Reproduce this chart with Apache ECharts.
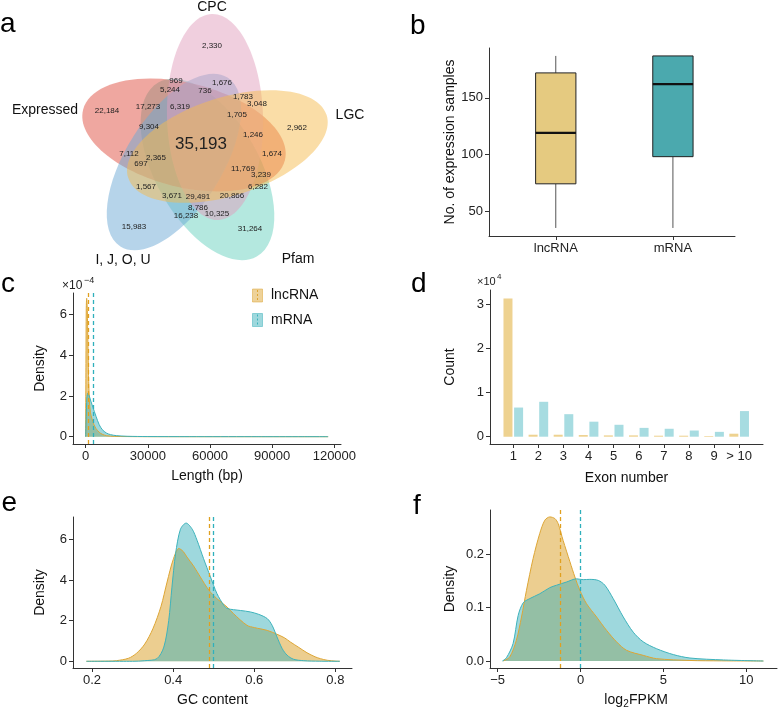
<!DOCTYPE html>
<html>
<head>
<meta charset="utf-8">
<script src="https://cdn.jsdelivr.net/npm/echarts@6/dist/echarts.min.js"></script>
<style>
html,body{margin:0;padding:0;background:#fff;}
#main{width:780px;height:708px;}
</style>
</head>
<body>
<div id="main"></div>
<script>
// ---- data ----
// a: venn
var vennSets = ['CPC', 'LGC', 'Pfam', 'I, J, O, U', 'Expressed'];
var vennCounts = [2330, 969, 1676, 5244, 736, 1783, 3048, 22184, 17273, 6319, 1705, 2962, 9304, 1246, 35193,
    7112, 2365, 697, 1674, 11769, 3239, 1567, 6282, 3671, 29491, 20866, 8786, 16238, 10325, 15983, 31264];

// b: boxplot  [min, Q1, median, Q3, max]
var boxCats = ['lncRNA', 'mRNA'];
var boxStats = [[35, 74, 119, 172, 187], [35, 98, 162, 187, 187]];

// c: length density (x10^-4)
var lenLncX = [0, 150, 300, 500, 800, 1100, 1400, 1800, 2300, 3000, 4000, 5000, 6500, 8000, 10000, 14000, 20000, 30000, 117000];
var lenLncY = [0, 3.6, 6.3, 6.8, 6.2, 4.6, 3.0, 1.8, 1.2, 0.9, 0.6, 0.4, 0.22, 0.12, 0.05, 0.015, 0.005, 0, 0];
var lenMrnaX = [0, 300, 600, 1100, 1600, 2500, 3500, 5000, 6500, 8000, 10000, 12000, 15000, 20000, 30000, 50000, 80000, 117000];
var lenMrnaY = [0, 1.0, 1.9, 2.15, 2.05, 1.75, 1.45, 1.0, 0.6, 0.35, 0.18, 0.1, 0.05, 0.02, 0.006, 0.002, 0.001, 0];
var lenMean = [1100, 3600];

// d: exon number (x10^4)
var exonCats = ['1', '2', '3', '4', '5', '6', '7', '8', '9', '> 10'];
var exonLnc = [3.13, 0.045, 0.045, 0.038, 0.03, 0.03, 0.023, 0.023, 0.015, 0.068];
var exonMrna = [0.66, 0.79, 0.51, 0.34, 0.27, 0.20, 0.18, 0.14, 0.11, 0.58];

// e: GC content density
var gcLncX = [0.186, 0.24, 0.26, 0.29, 0.31, 0.33, 0.35, 0.37, 0.385, 0.40, 0.414, 0.425, 0.434, 0.45, 0.467, 0.488, 0.508, 0.533, 0.549, 0.582, 0.60, 0.632, 0.656, 0.675, 0.689, 0.71, 0.73, 0.75, 0.763, 0.78, 0.80, 0.811];
var gcLncY = [0, 0.01, 0.03, 0.15, 0.4, 0.85, 1.6, 2.7, 3.9, 5.0, 5.55, 5.4, 5.13, 4.7, 4.15, 3.5, 3.08, 2.67, 2.34, 1.77, 1.66, 1.52, 1.33, 1.15, 0.95, 0.68, 0.42, 0.22, 0.13, 0.05, 0.01, 0];
var gcMrnaX = [0.186, 0.30, 0.33, 0.36, 0.377, 0.389, 0.397, 0.406, 0.418, 0.432, 0.447, 0.459, 0.475, 0.492, 0.508, 0.525, 0.533, 0.549, 0.566, 0.59, 0.611, 0.632, 0.644, 0.656, 0.669, 0.681, 0.697, 0.722, 0.76, 0.811];
var gcMrnaY = [0, 0, 0.03, 0.13, 0.7, 2.0, 3.65, 5.3, 6.5, 6.8, 6.5, 5.95, 5.05, 4.15, 3.33, 2.75, 2.6, 2.54, 2.5, 2.43, 2.31, 2.1, 1.77, 1.2, 0.62, 0.3, 0.1, 0.03, 0.005, 0];
var gcMean = [0.489, 0.498];

// f: log2FPKM density
var fpkmLncX = [-4.67, -4.27, -3.87, -3.56, -3.26, -2.86, -2.46, -2.15, -1.85, -1.55, -1.35, -1.05, -0.64, -0.34, -0.04, 0.36, 0.97, 1.57, 2.17, 2.78, 3.78, 4.59, 6.6, 8.5, 11.03];
var fpkmLncY = [0, 0.0075, 0.039, 0.0825, 0.1325, 0.192, 0.239, 0.264, 0.27, 0.267, 0.2575, 0.226, 0.186, 0.1575, 0.1325, 0.1075, 0.0825, 0.0575, 0.036, 0.02, 0.0106, 0.0044, 0.001, 0.0003, 0];
var fpkmMrnaX = [-4.71, -4.47, -4.07, -3.76, -3.46, -3.06, -2.46, -1.85, -1.45, -0.85, -0.24, 0.16, 0.56, 1.07, 1.47, 1.97, 2.58, 3.18, 3.78, 4.59, 5.6, 6.6, 8.62, 11.03];
var fpkmMrnaY = [0, 0.006, 0.0325, 0.0856, 0.109, 0.117, 0.126, 0.1375, 0.142, 0.148, 0.154, 0.1525, 0.153, 0.151, 0.142, 0.117, 0.0825, 0.054, 0.036, 0.023, 0.012, 0.0056, 0.002, 0];
var fpkmMean = [-1.21, 0];

// ---- layout / style ----
var FONT = '"Liberation Sans", Arial, sans-serif';
var YEL = '#DDA534', BLU = '#3DB2BB';
// venn ellipse shapes, same order as vennSets: [cx, cy, rx, ry, angle(deg, clockwise)]
var vennShapes = [
    [215, 117, 103, 48, -91.7],
    [227.5, 146.5, 104, 49, -17.6],
    [207.5, 169.5, 100, 52, 60.5],
    [174, 162, 100, 48, 122.4],
    [184, 135, 104, 52, 194]
];
var vennColors = ['rgba(225,160,190,0.5)', 'rgba(245,187,79,0.5)', 'rgba(105,209,191,0.5)', 'rgba(109,169,213,0.5)', 'rgba(223,80,66,0.5)'];
var vennLabelPos = [[212, 7], [350, 115], [298, 259], [123, 260], [45, 110]];
var vennCountPos = [[212,46],[176,81],[222,83],[170,90],[205,91],[243,97],[257,104],[107,111],[148,107],[180,107],[237,115],[297,128],[149,127],[253,135],[201,144],
    [129,154],[156,158],[141,164],[272,154],[243,169],[261,175],[146,187],[258,187],[172,196],[198,197],[232,196],[198,208],[186,216],[217,214],[134,227],[250,229]];

var myChart = echarts.init(document.getElementById('main'));

var graphics = [];
// venn ellipses: Pfam, Expressed, IJOU, CPC, LGC
[2, 4, 3, 0, 1].forEach(function (k) {
    var s = vennShapes[k];
    graphics.push({
        type: 'ellipse', x: s[0], y: s[1], rotation: -s[4] * Math.PI / 180,
        shape: {cx: 0, cy: 0, rx: s[2], ry: s[3]},
        style: {fill: vennColors[k]}
    });
});
vennCounts.forEach(function (n, i) {
    var big = n === 35193;
    graphics.push({
        type: 'text', x: vennCountPos[i][0], y: vennCountPos[i][1],
        style: {text: n.toLocaleString('en-US'), fill: '#222', fontSize: big ? 17 : 8, fontFamily: FONT, align: 'center', verticalAlign: 'middle'}
    });
});
vennSets.forEach(function (s, i) {
    graphics.push({
        type: 'text', x: vennLabelPos[i][0], y: vennLabelPos[i][1],
        style: {text: s, fill: '#111', fontSize: 14, fontFamily: FONT, align: 'center', verticalAlign: 'middle'}
    });
});
// panel letters
[['a', 0, 24], ['b', 410, 26], ['c', 1, 284], ['d', 411, 284], ['e', 1.5, 503], ['f', 413, 506]].forEach(function (p) {
    graphics.push({type: 'text', x: p[1], y: p[2],
        style: {text: p[0], fill: '#000', fontSize: 28, fontFamily: FONT, align: 'left', verticalAlign: 'middle'}});
});
// axis multipliers
graphics.push({type: 'text', x: 62, y: 286, style: {text: '\u00d710', fill: '#222', fontSize: 12, fontFamily: FONT, verticalAlign: 'middle'}});
graphics.push({type: 'text', x: 84, y: 281, style: {text: '\u22124', fill: '#222', fontSize: 9, fontFamily: FONT, verticalAlign: 'middle'}});
graphics.push({type: 'text', x: 477, y: 282, style: {text: '\u00d710', fill: '#222', fontSize: 11, fontFamily: FONT, verticalAlign: 'middle'}});
graphics.push({type: 'text', x: 497, y: 277, style: {text: '4', fill: '#222', fontSize: 8, fontFamily: FONT, verticalAlign: 'middle'}});
// legend for c
[['lncRNA', YEL, 289], ['mRNA', BLU, 313.5]].forEach(function (l) {
    graphics.push({type: 'rect', shape: {x: 252.5, y: l[2], width: 10, height: 13},
        style: {fill: l[1], opacity: 0.5, stroke: l[1], lineWidth: 1}});
    graphics.push({type: 'line', shape: {x1: 257.5, y1: l[2] + 1, x2: 257.5, y2: l[2] + 12},
        style: {stroke: l[1], lineWidth: 1, lineDash: [2, 2]}});
    graphics.push({type: 'text', x: 271, y: l[2] + 6.5,
        style: {text: l[0], fill: '#111', fontSize: 14, fontFamily: FONT, verticalAlign: 'middle'}});
});
// log2FPKM title
graphics.push({type: 'text', x: 623, y: 700, style: {text: 'log', fill: '#111', fontSize: 14, fontFamily: FONT, align: 'right', verticalAlign: 'middle'}});
graphics.push({type: 'text', x: 623.3, y: 704, style: {text: '2', fill: '#111', fontSize: 10, fontFamily: FONT, align: 'left', verticalAlign: 'middle'}});
graphics.push({type: 'text', x: 629, y: 700, style: {text: 'FPKM', fill: '#111', fontSize: 14, fontFamily: FONT, align: 'left', verticalAlign: 'middle'}});

function axis(grid, min, max, ticks, fmt, name, gap) {
    return {
        type: 'value', gridIndex: grid, min: min, max: max,
        axisLine: {show: true, onZero: false, lineStyle: {color: '#333', width: 1}},
        axisTick: {show: true, length: 4, customValues: ticks, lineStyle: {color: '#333'}},
        axisLabel: {customValues: ticks, color: '#222', fontSize: 13, fontFamily: FONT, margin: 6, formatter: fmt},
        splitLine: {show: false},
        name: name || '', nameLocation: 'middle', nameGap: gap || 25,
        nameTextStyle: {color: '#111', fontSize: 14, fontFamily: FONT}
    };
}
function num(v) { return v < 0 ? '\u2212' + (-v) : String(v); }

function densitySeries(idx, xs, ys, color, op) {
    return {
        type: 'line', xAxisIndex: idx, yAxisIndex: idx, z: 2,
        data: xs.map(function (x, i) { return [x, ys[i]]; }),
        showSymbol: false, symbol: 'none', smooth: 0.3,
        lineStyle: {color: color, width: 1},
        itemStyle: {color: color},
        areaStyle: {color: color, opacity: op}
    };
}
// dashed mean lines drawn above both densities
function meanSeries(idx, means) {
    return {
        type: 'line', xAxisIndex: idx, yAxisIndex: idx, z: 10, data: [],
        markLine: {silent: true, symbol: 'none', label: {show: false}, animation: false,
            data: means.map(function (m, i) {
                return {xAxis: m, lineStyle: {color: i === 0 ? '#E0A020' : '#2FB0BC', type: [4, 3], width: 1.3}};
            })}
    };
}

var option = {
    animation: false,
    grid: [
        {left: 489, top: 48, width: 246, height: 188, containLabel: false, outerBoundsMode: 'none'},
        {left: 73, top: 293, width: 268, height: 151, containLabel: false, outerBoundsMode: 'none'},
        {left: 490, top: 290, width: 273, height: 154, containLabel: false, outerBoundsMode: 'none'},
        {left: 73, top: 517, width: 279, height: 151, containLabel: false, outerBoundsMode: 'none'},
        {left: 490, top: 510, width: 287, height: 158, containLabel: false, outerBoundsMode: 'none'}
    ],
    xAxis: [
        axis(0, 0.43, 2.53, [1, 2], function (v) { return boxCats[Math.round(v) - 1]; }),
        axis(1, -6100, 123200, [0, 30000, 60000, 90000, 120000], num, 'Length (bp)', 25),
        axis(2, 0.072, 10.95, [1, 2, 3, 4, 5, 6, 7, 8, 9, 10], function (v) { return exonCats[Math.round(v) - 1]; }, 'Exon number', 27),
        axis(3, 0.153, 0.841, [0.2, 0.4, 0.6, 0.8], function (v) { return v.toFixed(1); }, 'GC content', 25),
        axis(4, -5.46, 11.85, [-5, 0, 5, 10], num)
    ],
    yAxis: [
        axis(0, 27.9, 194, [50, 100, 150], num, 'No. of expression samples', 32),
        axis(1, -0.36, 7.06, [0, 2, 4, 6], num, 'Density', 26),
        axis(2, -0.165, 3.32, [0, 1, 2, 3], num, 'Count', 33),
        axis(3, -0.33, 7.1, [0, 2, 4, 6], num, 'Density', 26),
        axis(4, -0.0131, 0.283, [0, 0.1, 0.2], function (v) { return v.toFixed(1); }, 'Density', 33)
    ],
    graphic: graphics,
    series: [
        {
            type: 'custom', xAxisIndex: 0, yAxisIndex: 0,
            data: boxStats.map(function (s, i) { return [i + 1].concat(s); }),
            encode: {x: 0, y: [1, 2, 3, 4, 5]},
            renderItem: function (params, api) {
                var x = api.value(0);
                var lo = api.coord([x, api.value(1)]);
                var q1 = api.coord([x, api.value(2)]);
                var md = api.coord([x, api.value(3)]);
                var q3 = api.coord([x, api.value(4)]);
                var hi = api.coord([x, api.value(5)]);
                var hw = api.size([0.172, 0])[0];
                var fill = ['#E5CA80', '#4BA9AE'][params.dataIndex];
                return {type: 'group', children: [
                    {type: 'line', shape: {x1: lo[0], y1: lo[1], x2: q1[0], y2: q1[1]}, style: {stroke: '#555', lineWidth: 1}},
                    {type: 'line', shape: {x1: q3[0], y1: q3[1], x2: hi[0], y2: hi[1]}, style: {stroke: '#555', lineWidth: 1}},
                    {type: 'rect', shape: {x: q3[0] - hw, y: q3[1], width: 2 * hw, height: q1[1] - q3[1]}, style: {fill: fill, stroke: '#222', lineWidth: 1}},
                    {type: 'line', shape: {x1: md[0] - hw, y1: md[1], x2: md[0] + hw, y2: md[1]}, style: {stroke: '#111', lineWidth: 2.2}}
                ]};
            }
        },
        densitySeries(1, lenLncX, lenLncY, YEL, 0.55),
        densitySeries(1, lenMrnaX, lenMrnaY, BLU, 0.5),
        meanSeries(1, lenMean),
        {type: 'bar', xAxisIndex: 2, yAxisIndex: 2, barWidth: 9, barGap: '18%',
            data: exonLnc.map(function (v, i) { return [i + 1, v]; }), itemStyle: {color: '#EED290'}},
        {type: 'bar', xAxisIndex: 2, yAxisIndex: 2, barWidth: 9, barGap: '18%',
            data: exonMrna.map(function (v, i) { return [i + 1, v]; }), itemStyle: {color: '#A7DCE1'}},
        densitySeries(3, gcLncX, gcLncY, YEL, 0.55),
        densitySeries(3, gcMrnaX, gcMrnaY, BLU, 0.5),
        meanSeries(3, gcMean),
        densitySeries(4, fpkmLncX, fpkmLncY, YEL, 0.55),
        densitySeries(4, fpkmMrnaX, fpkmMrnaY, BLU, 0.5),
        meanSeries(4, fpkmMean)
    ]
};
myChart.setOption(option);
</script>
</body>
</html>
